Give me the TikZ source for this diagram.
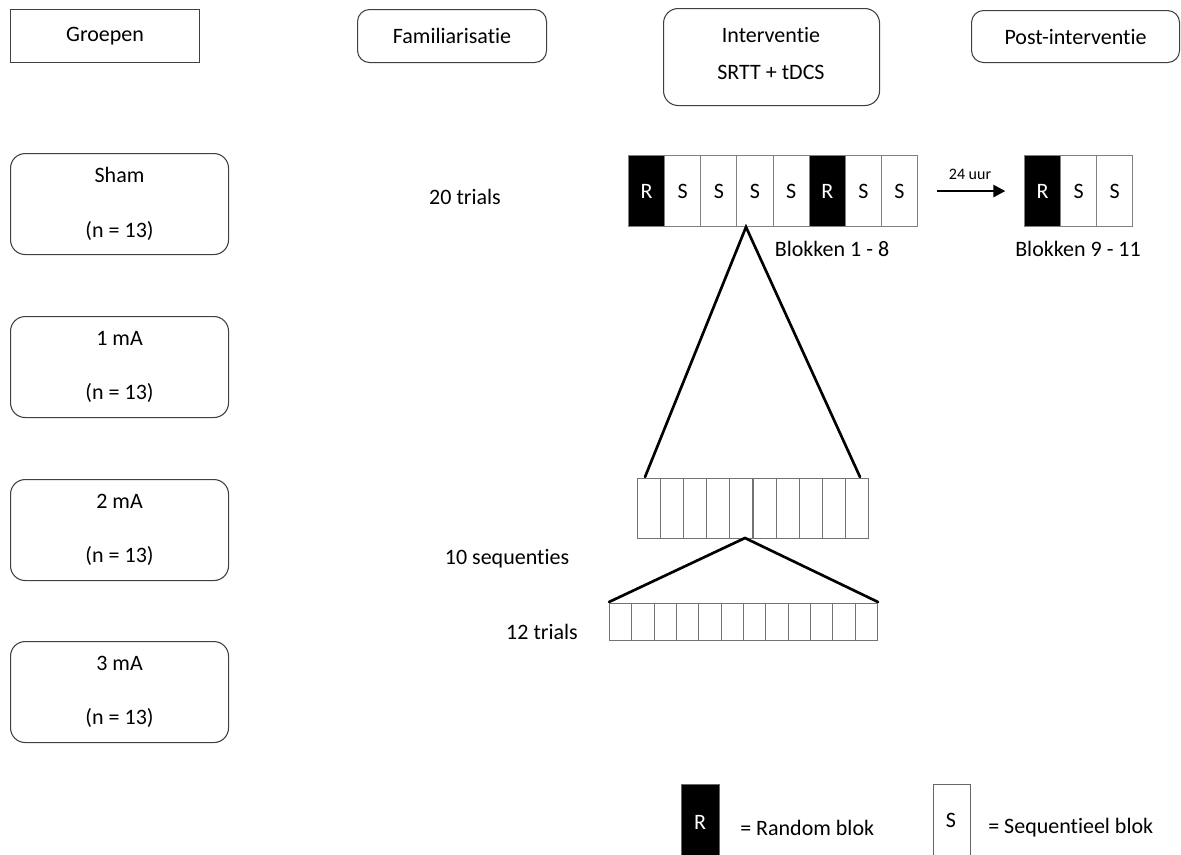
\documentclass[tikz,border=0pt]{standalone}
\usepackage{fontspec}
\setmainfont{Carlito}[Ligatures=NoCommon]
\usetikzlibrary{arrows.meta}
\begin{document}
\begin{tikzpicture}[x=0.75pt,y=-0.75pt,
  txt/.style={font=\fontsize{16.5}{19}\selectfont, inner sep=0pt},
  smalltxt/.style={font=\fontsize{12}{14}\selectfont, inner sep=0pt},
  box/.style={draw=black!75, line width=0.8pt, anchor=north west, txt, align=center},
  rbox/.style={box, rounded corners=9pt},
  grp/.style={box, rounded corners=11pt, minimum width=163.5pt, minimum height=75.75pt},
  cellS/.style={draw=black!50, line width=0.8pt, fill=white, anchor=north west, txt, text=black, minimum width=27.1pt, minimum height=53.25pt},
  cellR/.style={cellS, fill=black, text=white},
  seqcell/.style={draw=black!55, line width=0.8pt, anchor=north west, inner sep=0pt},
  tri/.style={line width=2pt, black, line cap=round},
  arr/.style={line width=2pt, -{Triangle[length=9pt,width=9pt]}}
]
\useasboundingbox (0,0) rectangle (1181,854);

% headers
\node[box, minimum width=141.75pt, minimum height=39.75pt] (groepen) at (10,9) {Groepen};
\node[rbox, minimum width=141.75pt, minimum height=39.75pt] (fam) at (357,9) {Familiarisatie};
\node[rbox, rounded corners=11pt, minimum width=162pt, minimum height=72.75pt] (interv) at (663,8) {};
\node[txt] (intervA) at (771,35) {Interventie};
\node[txt] (intervB) at (771,72) {SRTT + tDCS};
\node[rbox, minimum width=156pt, minimum height=39pt] (post) at (971,10) {Post-interventie};

% groups
\node[grp] (sham) at (10,153) {Sham\\[22pt](n = 13)};
\node[grp] (g1) at (10,316) {1 mA\\[22pt](n = 13)};
\node[grp] (g2) at (10,479) {2 mA\\[22pt](n = 13)};
\node[grp] (g3) at (10,641) {3 mA\\[22pt](n = 13)};

% labels
\node[txt] (l20) at (465,197) {20 trials};
\node[txt] (l10) at (507,559) {10 sequenties};
\node[txt] (l12) at (542,632) {12 trials};

% blocks 1-8
\foreach \i/\s/\t in {1/cellR/R,2/cellS/S,3/cellS/S,4/cellS/S,5/cellS/S,6/cellR/R,7/cellS/S,8/cellS/S}{
  \node[\s] (b\i) at ({628+36.125*(\i-1)},155) {\t};
}
\node[txt] (blk1) at (832,249) {Blokken 1 - 8};

% blocks 9-11
\node[cellR] (c1) at (1024,155) {R};
\node[cellS] (c2) at (1060,155) {S};
\node[cellS] (c3) at (1096,155) {S};
\node[txt] (blk2) at (1078,249) {Blokken 9 - 11};

% arrow
\draw[arr] ([xshift=14pt]b8.east) -- ([xshift=-14pt]c1.west);
\node[smalltxt] (uur) at (970,174) {24 uur};

% 10 sequences row
\foreach \i in {1,...,10}{
  \node[seqcell, minimum width=17.3pt, minimum height=45pt] (s\i) at ({637+23.1*(\i-1)},478) {};
}
% 12 trials row
\foreach \i in {1,...,12}{
  \node[seqcell, minimum width=16.75pt, minimum height=27.75pt] (t\i) at ({609+22.33*(\i-1)},603) {};
}

% triangles
\coordinate (apex1) at (746,227);
\coordinate (e1l) at (645,477);
\coordinate (e1r) at (860,477);
\draw[tri] (e1l) -- (apex1) -- (e1r);
\coordinate (apex2) at (745,538);
\coordinate (e2l) at (609,602);
\coordinate (e2r) at (878,602);
\draw[tri] (e2l) -- (apex2) -- (e2r);

% legend
\node[draw=black!60, fill=black, line width=0.8pt, anchor=north west, minimum width=28.5pt, minimum height=56pt, inner sep=0pt] (legR) at (681,784) {};
\node[txt, text=white] (legRt) at (700,822) {R};
\node[txt, anchor=west] (legRl) at (740,828) {= Random blok};
\node[draw=black!60, line width=0.8pt, anchor=north west, minimum width=27.75pt, minimum height=56pt, inner sep=0pt] (legS) at (933,784) {};
\node[txt] (legSt) at (951,820) {S};
\node[txt, anchor=west] (legSl) at (988,828) {= Sequentieel blok};
\end{tikzpicture}
\end{document}
